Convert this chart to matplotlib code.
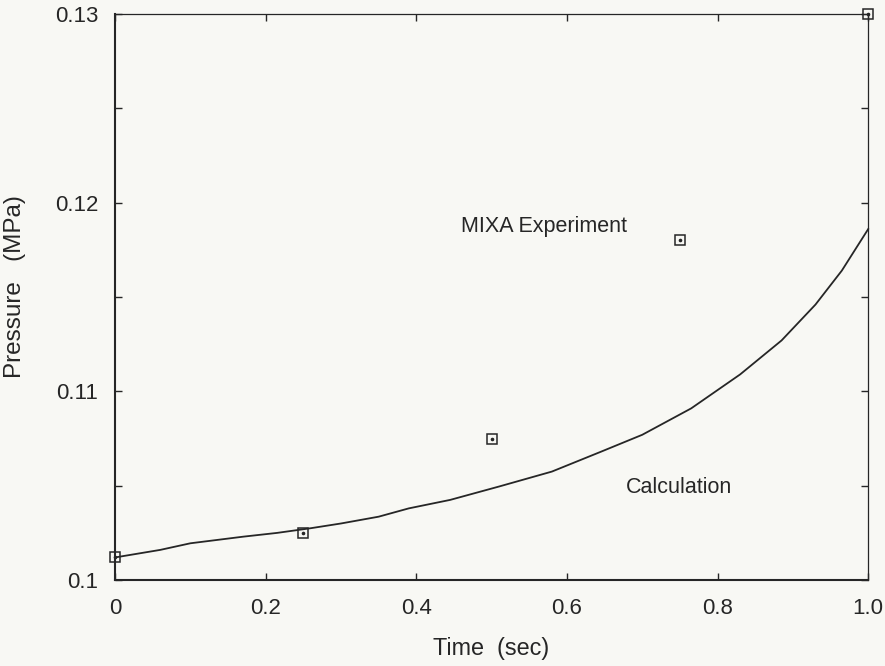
import matplotlib.pyplot as plt
import matplotlib.ticker as mticker

plt.rcParams['font.family'] = ['Liberation Sans', 'DejaVu Sans']

# calculated pressure curve
calc_time = [0.0, 0.06, 0.10, 0.17, 0.215, 0.26, 0.30, 0.35, 0.39, 0.445,
             0.51, 0.58, 0.645, 0.70, 0.765, 0.83, 0.885, 0.93, 0.965, 1.0]
calc_pres = [0.1012, 0.1016, 0.10195, 0.1023, 0.1025, 0.10275, 0.1030,
             0.10336, 0.1038, 0.10425, 0.10496, 0.10575, 0.1068, 0.1077,
             0.1091, 0.1109, 0.1127, 0.1146, 0.1164, 0.1186]

# MIXA experiment points
exp_time = [0.0, 0.25, 0.5, 0.75, 1.0]
exp_pres = [0.1012, 0.1025, 0.1075, 0.1180, 0.1300]

xticks = [0, 0.2, 0.4, 0.6, 0.8, 1.0]
xlabels = ['0', '0.2', '0.4', '0.6', '0.8', '1.0']
yticks = [0.10, 0.11, 0.12, 0.13]
ylabels = ['0.1', '0.11', '0.12', '0.13']

ink = '#262626'
paper = '#f8f8f4'

fig = plt.figure(figsize=(8.85, 6.66), dpi=100, facecolor=paper)
ax = fig.add_axes([0.130, 0.129, 0.851, 0.850], facecolor=paper)

# curve and experiment markers (square with a dot in the middle)
ax.plot(calc_time, calc_pres, color=ink, lw=1.3, clip_on=False, zorder=3)
ax.plot(exp_time, exp_pres, ls='none', marker='s', ms=6.5, mfc='none',
        mec=ink, mew=1.1, clip_on=False, zorder=4)
ax.plot(exp_time, exp_pres, ls='none', marker='o', ms=1.6, mfc=ink,
        mec=ink, clip_on=False, zorder=4)

ax.set_xlim(0, 1.0)
ax.set_ylim(0.10, 0.13)

ax.xaxis.set_major_locator(mticker.FixedLocator(xticks))
ax.xaxis.set_major_formatter(mticker.FixedFormatter(xlabels))
ax.yaxis.set_major_locator(mticker.FixedLocator(yticks))
ax.yaxis.set_major_formatter(mticker.FixedFormatter(ylabels))
ax.yaxis.set_minor_locator(mticker.MultipleLocator(0.005))

ax.tick_params(which='both', direction='in', length=5, width=1.0,
               color=ink, top=True, right=True)
ax.tick_params(axis='x', which='major', labelsize=16, pad=13, labelcolor=ink)
ax.tick_params(axis='y', which='major', labelsize=16, pad=12, labelcolor=ink)

for side in ['left', 'bottom']:
    ax.spines[side].set_linewidth(1.5)
for side in ['top', 'right']:
    ax.spines[side].set_linewidth(0.9)
for sp in ax.spines.values():
    sp.set_color(ink)

ax.set_xlabel('Time  (sec)', fontsize=16.8, color=ink)
ax.set_ylabel('Pressure   (MPa)', fontsize=17.5, color=ink)
ax.xaxis.set_label_coords(0.5, -0.10)
ax.yaxis.set_label_coords(-0.118, 0.518)

fig.text(461 / 885, 1 - 232 / 666, 'MIXA Experiment', fontsize=15.5,
         color=ink, ha='left', va='baseline')
fig.text(626 / 885, 1 - 493 / 666, 'Calculation', fontsize=15.5,
         color=ink, ha='left', va='baseline')

plt.savefig('out.png', dpi=100, facecolor=paper)
